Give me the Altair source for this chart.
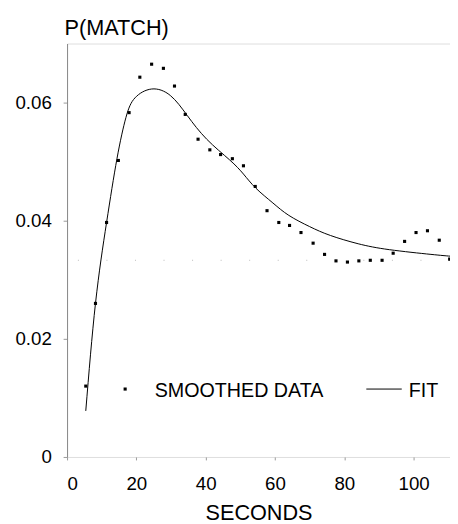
import altair as alt
import pandas as pd

# Smoothed data points (seconds, P(match))
data_s = [5.4, 8.2, 11.4, 14.8, 17.9, 21.0, 24.4, 27.8, 31.0, 34.1, 37.8, 41.2, 44.3,
          47.7, 50.9, 54.3, 57.7, 61.1, 64.2, 67.5, 71.0, 74.3, 77.6, 80.9, 84.2,
          87.5, 90.9, 94.1, 97.4, 100.7, 104.0, 107.4, 110.4]
data_v = [0.012, 0.026, 0.0397, 0.0502, 0.0583, 0.0643, 0.0665, 0.0658, 0.0628, 0.058,
          0.0538, 0.052, 0.0512, 0.0505, 0.0493, 0.0458, 0.0417, 0.0397, 0.0392, 0.038,
          0.0362, 0.0343, 0.0332, 0.033, 0.0332, 0.0333, 0.0333, 0.0345, 0.0365, 0.038,
          0.0383, 0.0367, 0.0335]

# Fitted curve
fit_s = [5.4, 8.2, 11.4, 14.4, 17.0, 19.6, 24.4, 29.8, 34.7, 40.3, 46.9,
         50.9, 54.5, 59.4, 64.0, 70.0, 76.0, 84.0, 93.0, 105.0, 110.5]
fit_v = [0.0078, 0.026, 0.0397, 0.0505, 0.0575, 0.0608, 0.0623, 0.0612,
         0.0578, 0.0538, 0.0503, 0.0479, 0.0455, 0.0430, 0.0409, 0.0390, 0.0375,
         0.0361, 0.0351, 0.0343, 0.0340]

ref_level = [0.0333]
x_ticks = [0, 20, 40, 60, 80, 100]
y_ticks = [0, 0.02, 0.04, 0.06]
legend_labels = ["SMOOTHED DATA", "FIT"]

FONT = "Liberation Sans"

pts = pd.DataFrame({"s": data_s, "v": data_v})
fit = pd.DataFrame({"s": fit_s, "v": fit_v})
ref = pd.DataFrame({"v": ref_level})

xscale = alt.Scale(domain=[0, 110.5], nice=False, zero=False)
yscale = alt.Scale(domain=[0, 0.07], nice=False)

xaxis = alt.Axis(values=x_ticks, title="SECONDS", domain=False, grid=False,
                 tickSize=3, tickColor="#999", labelFontSize=19, labelPadding=15,
                 labelColor="black", labelFont=FONT, titleFont=FONT, titleFontSize=22,
                 titleFontWeight="normal", titleColor="black", titlePadding=10)
yaxis = alt.Axis(values=y_ticks, title="P(MATCH)", grid=False, domainColor="#888",
                 tickSize=4, tickColor="#999", labelFontSize=19, labelPadding=12,
                 labelColor="black", labelFont=FONT, format="~g",
                 titleFont=FONT, titleFontSize=22, titleFontWeight="normal",
                 titleColor="black", titleAngle=0, titleAlign="left",
                 titleBaseline="alphabetic", titleX=-3, titleY=-9)

base_x = alt.X("s:Q", scale=xscale, axis=xaxis)
base_y = alt.Y("v:Q", scale=yscale, axis=yaxis)

ref_rule = alt.Chart(ref).mark_rule(color="#bbb", strokeDash=[1, 28], strokeWidth=1).encode(
    y=alt.Y("v:Q", scale=yscale)
)

line = alt.Chart(fit).mark_line(color="black", strokeWidth=1, interpolate="natural").encode(
    x=base_x, y=base_y
)

points = alt.Chart(pts).mark_square(color="black", size=10, opacity=1).encode(
    x=alt.X("s:Q", scale=xscale), y=alt.Y("v:Q", scale=yscale)
)

lab = pd.DataFrame({"label": legend_labels})

leg_dot = alt.Chart(lab.iloc[[0]]).mark_square(color="black", size=10, opacity=1).encode(
    x=alt.value(59), y=alt.value(351)
)
leg_text1 = alt.Chart(lab.iloc[[0]]).mark_text(
    align="left", baseline="alphabetic", font=FONT, fontSize=20, color="black"
).encode(x=alt.value(89), y=alt.value(359), text="label:N")
leg_line = alt.Chart(lab.iloc[[1]]).mark_rule(color="black", strokeWidth=1).encode(
    x=alt.value(304), x2=alt.value(340), y=alt.value(351)
)
leg_text2 = alt.Chart(lab.iloc[[1]]).mark_text(
    align="left", baseline="alphabetic", font=FONT, fontSize=20, color="black"
).encode(x=alt.value(347), y=alt.value(359), text="label:N")

chart = alt.layer(ref_rule, line, points, leg_dot, leg_text1, leg_line, leg_text2).properties(
    width=389, height=420,
    autosize="none",
    padding={"left": 60, "top": 32, "right": 0, "bottom": 64},
).configure_view(stroke=None).configure(background="white")

chart.save("out.html", embed_options={"renderer": "svg", "actions": False})
